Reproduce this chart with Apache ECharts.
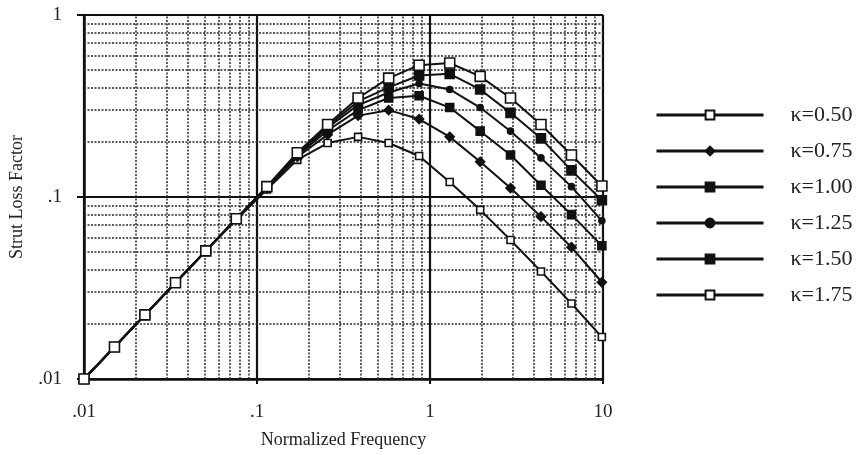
<!DOCTYPE html>
<html>
<head>
<meta charset="utf-8">
<script src="https://cdn.jsdelivr.net/npm/echarts@6/dist/echarts.min.js"></script>
<style>html,body{margin:0;padding:0;background:#fff;}#c{width:864px;height:455px;}</style>
</head>
<body>
<div id="c"></div>
<script>
// Normalized frequency sample points
var freq = [0.01, 0.015, 0.0225, 0.0338, 0.0506, 0.0759, 0.114, 0.171, 0.256, 0.384, 0.577, 0.865, 1.30, 1.95, 2.92, 4.38, 6.57, 9.85];
var k050 = [0.01, 0.015, 0.0225, 0.0338, 0.0506, 0.075, 0.11, 0.16, 0.198, 0.214, 0.198, 0.168, 0.121, 0.085, 0.058, 0.039, 0.026, 0.017];
var k075 = [0.01, 0.015, 0.0225, 0.0338, 0.0506, 0.0758, 0.112, 0.166, 0.22, 0.28, 0.30, 0.268, 0.214, 0.156, 0.112, 0.078, 0.053, 0.034];
var k100 = [0.01, 0.015, 0.0225, 0.0338, 0.0506, 0.0759, 0.113, 0.169, 0.232, 0.30, 0.35, 0.36, 0.31, 0.23, 0.17, 0.116, 0.080, 0.054];
var k125 = [0.01, 0.015, 0.0225, 0.0338, 0.0506, 0.0759, 0.113, 0.171, 0.24, 0.32, 0.375, 0.42, 0.39, 0.31, 0.23, 0.164, 0.114, 0.074];
var k150 = [0.01, 0.015, 0.0225, 0.0338, 0.0506, 0.0759, 0.114, 0.173, 0.245, 0.335, 0.40, 0.465, 0.475, 0.39, 0.29, 0.21, 0.14, 0.096];
var k175 = [0.01, 0.015, 0.0225, 0.0338, 0.0506, 0.0759, 0.114, 0.175, 0.25, 0.35, 0.45, 0.53, 0.545, 0.46, 0.35, 0.25, 0.17, 0.115];
var seriesNames = ['κ=0.50', 'κ=0.75', 'κ=1.00', 'κ=1.25', 'κ=1.50', 'κ=1.75'];
var xTickLabels = ['.01', '.1', '1', '10'];   // decades -2..1
var yTickLabels = ['.01', '.1', '1'];          // decades -2..0
var xMinorGrid = [0.02,0.03,0.04,0.05,0.06,0.07,0.08,0.09,0.2,0.3,0.4,0.5,0.6,0.7,0.8,0.9,2,3,4,5,6,7,8,9];
var yMinorGrid = [0.02,0.03,0.04,0.05,0.06,0.07,0.08,0.09,0.2,0.3,0.4,0.5,0.6,0.7,0.8,0.9];

var FONT = '"Liberation Serif", "DejaVu Serif", serif';
var allY = [k050, k075, k100, k125, k150, k175];
var styles = [
  {symbol:'rect', size:7, fill:'#fff'},
  {symbol:'diamond', size:9, fill:'#111'},
  {symbol:'rect', size:8, fill:'#111'},
  {symbol:'circle', size:6, fill:'#111'},
  {symbol:'rect', size:9, fill:'#111'},
  {symbol:'rect', size:10, fill:'#fff'}
];
function pairs(ys){ return freq.map(function(f,i){ return [f, ys[i]]; }); }

var series = allY.map(function(ys, i){
  return {
    name: seriesNames[i], type: 'line', data: pairs(ys),
    symbol: styles[i].symbol, symbolSize: styles[i].size, showAllSymbol: true,
    lineStyle: {color:'#111', width:2},
    itemStyle: {color: styles[i].fill, borderColor:'#111', borderWidth:1.6},
    z: 5 + i, animation:false
  };
});
// gridline helper series
series.push({
  type:'line', data:[], silent:true, animation:false,
  markLine: {
    silent:true, symbol:['none','none'], label:{show:false}, animation:false,
    lineStyle:{color:'#2a2a2a', width:1.5, type:[2,1.5]},
    data: xMinorGrid.map(function(v){ return {xAxis:v}; }).concat(yMinorGrid.map(function(v){ return {yAxis:v}; }))
  }
});

var chart = echarts.init(document.getElementById('c'));
chart.setOption({
  backgroundColor:'#fff',
  animation:false,
  grid:{left:80, right:261, top:15, bottom:76, containLabel:false},
  xAxis:{
    type:'log', logBase:10, min:0.01, max:10,
    name:'Normalized Frequency', nameLocation:'middle', nameGap:52,
    nameTextStyle:{fontFamily:FONT, fontSize:18, color:'#222'},
    axisLine:{lineStyle:{color:'#111', width:2.5}},
    axisTick:{show:true, length:5, lineStyle:{color:'#111', width:2}},
    axisLabel:{fontFamily:FONT, fontSize:19, color:'#222', margin:24,
      formatter:function(v){ return xTickLabels[Math.round(Math.log10(v))+2]; }},
    splitLine:{show:true, lineStyle:{color:'#111', width:2.2}},
    minorTick:{show:false}, minorSplitLine:{show:false}
  },
  yAxis:{
    type:'log', logBase:10, min:0.01, max:1,
    name:'Strut Loss Factor', nameLocation:'middle', nameGap:58,
    nameTextStyle:{fontFamily:FONT, fontSize:18, color:'#222'},
    axisLine:{lineStyle:{color:'#111', width:2.5}},
    axisTick:{show:true, length:7, lineStyle:{color:'#111', width:2}},
    axisLabel:{fontFamily:FONT, fontSize:19, color:'#222', margin:22,
      formatter:function(v){ return yTickLabels[Math.round(Math.log10(v))+2]; }},
    splitLine:{show:true, lineStyle:{color:'#111', width:2.2}}
  },
  legend:{
    orient:'vertical', left:650, top:98, itemWidth:107, itemHeight:11, itemGap:12,
    selectedMode:false,
    data: seriesNames,
    lineStyle:{width:3, color:'#111'},
    textStyle:{fontFamily:FONT, fontSize:22, color:'#222', lineHeight:24, padding:[0,0,0,22]}
  },
  series: series
});
</script>
</body>
</html>
